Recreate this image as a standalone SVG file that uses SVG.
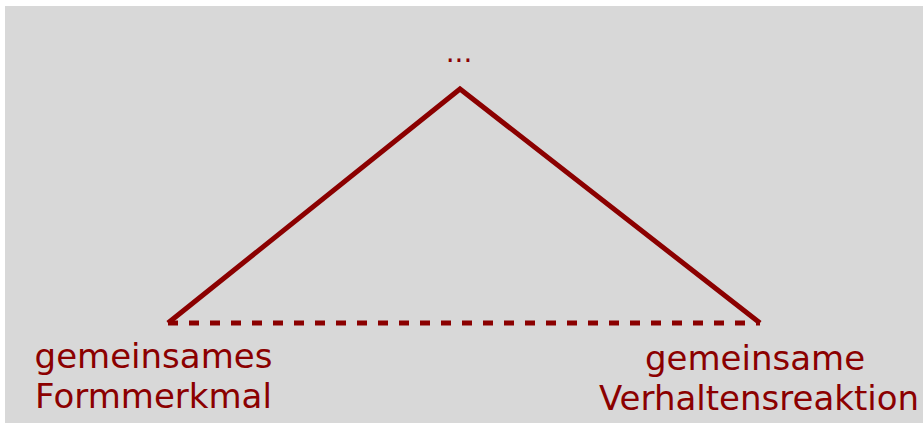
<svg xmlns="http://www.w3.org/2000/svg" width="923" height="423" viewBox="0 0 923 423">
<style>
.lbl{font-family:"DejaVu Sans",sans-serif;font-size:34px;fill:#8b0000;text-anchor:middle}
.ln{stroke:#8b0000;stroke-width:5;fill:none}
</style>
<rect width="923" height="423" fill="#ffffff"/>
<rect x="5" y="6" width="918" height="417" fill="#d8d8d8"/>
<g id="connectors">
<polyline class="ln" points="168,323 460,89 760,323" stroke-linejoin="miter"/>
<line class="ln" x1="168" y1="323" x2="760" y2="323" stroke-dasharray="10,11"/>
</g>
<g id="top"><text class="lbl" x="459" y="62" style="font-size:28px">...</text></g>
<g id="left"><text class="lbl" x="153.5" y="368">gemeinsames</text><text class="lbl" x="153.5" y="408">Formmerkmal</text></g>
<g id="right"><text class="lbl" x="755" y="370">gemeinsame</text><text class="lbl" x="759" y="410">Verhaltensreaktion</text></g>
</svg>
